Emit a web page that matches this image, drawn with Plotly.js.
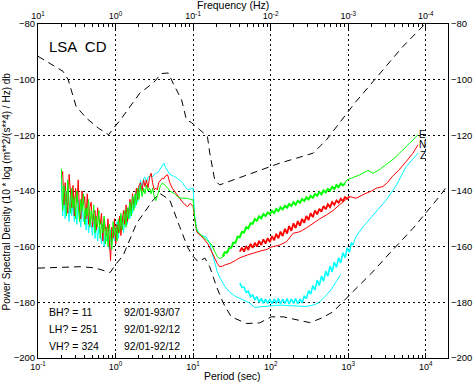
<!DOCTYPE html>
<html>
<head>
<meta charset="utf-8">
<script src="https://cdn.plot.ly/plotly-3.0.1.min.js"></script>
<style>html,body{margin:0;padding:0;background:#fff;}#chart{width:476px;height:389px;}</style>
</head>
<body>
<div id="chart"></div>
<script>
// ---- Tick labels ----
const X_TICKS = [0.1, 1, 10, 100, 1000, 10000];
const X_TICKTEXT = ['10<sup>-1</sup>','10<sup>0</sup>','10<sup>1</sup>','10<sup>2</sup>','10<sup>3</sup>','10<sup>4</sup>'];
const FREQ_TICKTEXT = ['10<sup>1</sup>','10<sup>0</sup>','10<sup>-1</sup>','10<sup>-2</sup>','10<sup>-3</sup>','10<sup>-4</sup>'];
const Y_TICKS = [-200, -180, -160, -140, -120, -100, -80];

// ---- Noise model curves (dashed) ----
const HIGH_PERIOD = [0.1,0.21,0.245,0.31,0.42,0.6,0.81,1.2,2.06,3.06,3.9,4.8,5.5,7.1,8.2,9.5,12.2,15.3,16.4,19,22,49,100,131,216,353,525,744,1216,5100,7590,9800];
const HIGH_DB = [-91.6,-97,-100,-109.6,-113.8,-117.4,-119.8,-113.8,-104.8,-101.2,-97.8,-97.6,-101.2,-107.2,-114.4,-115.4,-118,-120.4,-126.4,-136,-137.8,-134.2,-131.2,-130,-128.2,-126.4,-121.6,-116.2,-108.4,-88,-83.2,-80];
const LOW_PERIOD = [0.1,0.35,0.54,0.77,0.85,1.0,1.26,1.87,3.06,3.7,5.0,6.7,8.6,10,11.6,14.2,16.4,20,24.5,31,49,72,102,145,216,320,450,640,1100,2000,3440,6860,15000,19400];
const LOW_DB = [-167.7,-167.2,-167.6,-169,-169.3,-166.5,-163,-151.6,-143.2,-140.8,-143.2,-152.8,-160.5,-163.5,-165.4,-164.1,-167.2,-174.3,-180.3,-185.2,-187.6,-187.4,-185.2,-185.2,-186.3,-187.3,-185.7,-183.4,-176.7,-169.5,-162.3,-153.4,-142,-137.8];

// ---- Short-period spectra (all three channels) ----
const SP_PERIOD = [
 0.200,0.208,0.216,0.224,0.233,0.242,0.252,0.262,0.272,0.283,
 0.294,0.305,0.317,0.330,0.343,0.356,0.370,0.385,0.400,0.416,
 0.432,0.449,0.466,0.485,0.504,0.523,0.544,0.565,0.587,0.610,
 0.634,0.659,0.685,0.712,0.740,0.769,0.799,0.830,0.862,0.896,
 0.931,0.968,1.006,1.045,1.086,1.128,1.172,1.218,1.266,1.315,
 1.367,1.420,1.476,1.533,1.593,1.655,1.720,1.787,1.857,1.930,
 2.005,
 2.10,2.20,2.30,2.40,2.50,2.62,2.75,2.88,3.00,3.15,
 3.30,3.45,3.60,3.80,4.00,4.20,4.40,4.70,5.00,5.40,
 5.80,6.30,6.80,7.30,7.90,8.50,9.20,10.0,
 10.5,11.1,11.8,12.6,13.5,14.5,15.5,16.5,17.5,19.0,
 20.5,22.0,24.0,26.0];
const SP_E = [
 -132,-147,-138,-141,-149,-136,-144,-148,-139,-146,
 -142,-150,-140,-145,-151,-143,-147,-141,-152,-146,
 -149,-143,-153,-147,-151,-145,-155,-149,-153,-147,
 -157,-151,-155,-149,-159,-153,-160,-152,-157,-161,
 -151,-156,-153,-158,-150,-155,-148,-154,-151,-147,
 -153,-146,-150,-144,-149,-142,-147,-141,-145,-139,
 -143,
 -138,-142,-139,-141,-138,-140,-139,-141,-139,-142,
 -143.5,-142,-140,-138,-137.2,-137.5,-138,-139,-140,-140.5,
 -141,-142,-142.5,-142.6,-142.6,-142.6,-143,-143.2,
 -150,-154,-155,-155.8,-156.5,-157.4,-158,-158.6,-159.5,-161.8,
 -163.5,-164.2,-163.8,-163];
const SP_N = [
 -135,-133,-145,-137,-143,-148,-134,-141,-146,-138,
 -149,-139,-144,-136,-147,-150,-140,-145,-142,-150,
 -141,-152,-146,-144,-153,-148,-147,-154,-146,-150,
 -152,-148,-158,-150,-154,-156,-150,-158,-165,-153,
 -157,-150,-159,-152,-155,-149,-156,-151,-147,-152,
 -145,-151,-148,-143,-147,-141,-145,-143,-139,-143,
 -138,
 -137,-140,-136,-138.4,-136,-139,-135,-133.6,-137,-139.6,
 -139,-139.6,-137,-136,-135.4,-135.6,-134.6,-134.2,-137,-139,
 -140.2,-141.5,-143,-144,-145,-145.6,-144.4,-145.6,
 -150,-154.5,-155.5,-156,-157,-158,-159,-160.5,-162,-164,
 -166,-167.2,-167,-166.5];
const SP_Z = [
 -137,-149,-141,-150,-140,-147,-151,-142,-149,-144,
 -151,-146,-152,-143,-149,-153,-145,-151,-147,-154,
 -148,-155,-150,-152,-156,-149,-157,-151,-158,-153,
 -155,-159,-152,-160,-155,-158,-156,-161,-154,-159,
 -153,-158,-155,-151,-157,-152,-154,-149,-155,-150,
 -147,-152,-146,-150,-144,-148,-142,-146,-140,-144,
 -141,
 -136,-139,-135.5,-135,-137,-135,-134.8,-134.5,-135,-134,
 -133.6,-133.5,-133,-132,-131,-130,-131.5,-133,-134,-134.5,
 -134.8,-135.5,-136.2,-137,-138.5,-139.5,-139.3,-139,
 -149,-153.5,-155,-155.8,-156.2,-156.4,-157.5,-159,-162,-166,
 -169,-171,-173,-174.5];

// ---- Long-period noisy bands (shared period grid) ----
const BAND_PERIOD = [
 24,25.6,27.3,29.1,31,33,35.2,37.5,40,42.6,
 45.4,48.4,51.6,55,58.6,62.5,66.6,71,75.7,80.7,
 86,91.7,97.7,104,111,118,126,134,143,153,
 163,173,185,197,210,224,239,254,271,289,
 308,328,350,373,398,424,452,481,513,547,
 583,621,662,706,752,802,855,911,971,1035,
 1100,1150];
const E_BAND = [
 -163.5,-162.0,-162.2,-160.6,-160.4,-158.5,-158.6,-156.4,-156.6,-154.7,
 -154.9,-153.0,-153.4,-151.6,-151.8,-150.1,-150.7,-149.1,-149.8,-148.3,
 -149.0,-147.7,-148.3,-147.1,-147.9,-146.5,-147.2,-145.8,-146.6,-145.3,
 -146.0,-144.7,-145.4,-144.0,-144.9,-143.5,-144.2,-142.9,-143.6,-142.3,
 -143.0,-141.7,-142.4,-141.1,-141.7,-140.4,-141.2,-139.8,-140.5,-139.3,
 -139.9,-138.5,-139.3,-137.9,-138.6,-137.3,-138.0,-137.2,null,null,
 null,null];
const N_BAND = [
 null,null,null,null,null,null,null,null,-161.8,-160.4,
 -161.8,-159.8,-161.2,-159.0,-160.4,-158.6,-160.0,-157.9,-159.4,-157.4,
 -158.9,-156.9,-158.4,-156.2,-157.7,-155.4,-157.0,-154.6,-156.2,-153.6,
 -155.3,-152.6,-154.3,-151.6,-153.3,-150.8,-152.5,-150.0,-151.4,-149.0,
 -150.4,-148.0,-149.4,-147.0,-148.4,-146.4,-147.4,-145.4,-146.6,-144.8,
 -145.8,-144.0,-145.0,-143.4,-144.2,-142.8,-143.6,-142.2,-142.8,-142.0,
 null,null];
const Z_BAND = [
 null,null,null,null,null,null,null,null,-173.0,-174.6,
 -174.6,-176.4,-176.0,-178.0,-177.4,-179.0,-178.0,-180.0,-178.6,-180.4,
 -178.8,-180.4,-178.8,-180.6,-178.8,-180.4,-178.6,-180.6,-178.8,-180.4,
 -178.6,-180.6,-178.8,-180.4,-178.6,-180.6,-178.8,-180.2,-177.8,-178.6,
 -175.8,-177.0,-174.0,-175.6,-172.0,-174.0,-170.6,-172.4,-168.8,-170.6,
 -167.0,-169.0,-165.6,-167.4,-164.0,-165.8,-162.2,-164.0,-160.4,-162.0,
 -158.6,-159.4];

// ---- Long-period smooth lines ----
const E_TAIL_PERIOD = [911,960,1100,1400,1800,2100,2500,3100,3800,4600,5600,6800,7950];
const E_TAIL_DB = [-137.2,-136,-135.4,-134.2,-132.6,-133.6,-132.4,-130.6,-128.6,-126.4,-124,-121.8,-119.8];
const N_LINE_PERIOD = [26,30,35,40,50,60,75,90,100,131,160,195,240,300,353,430,525,640,770,900,1040,1260,1500,1700,2000,2300,2800,3200,3700,4500,5600,6800,7950];
const N_LINE_DB = [-166.5,-166,-165,-164,-163,-162.2,-161.5,-161,-160.2,-159.4,-158.2,-155.2,-154.6,-153,-151.6,-150,-148.6,-147,-145,-143.5,-142,-142.6,-141.5,-140.8,-140,-139,-138.4,-137,-134.8,-132.5,-129.4,-126.5,-123.4];
const Z_LINE_PERIOD = [26,30,35,40,47,54,62,75,100,131,180,240,290,350,410,500,600,700,800];
const Z_LINE_DB = [-174.5,-176.5,-177.8,-178.5,-179.4,-180.3,-181.8,-181.6,-181.2,-181,-181.2,-181.4,-181.5,-181,-180.3,-178,-175.5,-172.6,-170];
const Z_TAIL_PERIOD = [1150,1260,1560,2100,3100,4200,5600,7950];
const Z_TAIL_DB = [-159.4,-156.4,-152.8,-148.6,-143.2,-137.8,-131.2,-126.4];

// ---- Text ----
const STATION = 'LSA  CD';
const CHANNEL_LABELS = ['BH? = 11', 'LH? = 251', 'VH? = 324'];
const CHANNEL_DATES = ['92/01-93/07', '92/01-92/12', '92/01-92/12'];
const COMPONENTS = ['E', 'N', 'Z'];
const COMPONENT_DB = [-119.6, -123.4, -127.2];

const GREEN = '#00ff00', RED = '#ff0000', CYAN = '#00ffff';
const XRANGE = [-1, 4.287];
const MINOR = [];
[0.1, 1, 10, 100, 1000, 10000].forEach(d => { for (let k = 2; k <= 9; k++) MINOR.push(d * k); });

function line(x, y, color, width, dash) {
  return {x: x, y: y, type: 'scatter', mode: 'lines', hoverinfo: 'skip', connectgaps: false,
          line: {color: color, width: width, dash: dash || 'solid'}};
}

const traces = [
  line(HIGH_PERIOD, HIGH_DB, 'black', 1, '7px,5px'),
  line(LOW_PERIOD, LOW_DB, 'black', 1, '7px,5px'),
  line(SP_PERIOD, SP_Z, CYAN, 1),
  line(Z_LINE_PERIOD, Z_LINE_DB, CYAN, 1),
  line(BAND_PERIOD, Z_BAND, CYAN, 1.6),
  line(Z_TAIL_PERIOD, Z_TAIL_DB, CYAN, 1),
  line(SP_PERIOD, SP_N, RED, 1),
  line(N_LINE_PERIOD, N_LINE_DB, RED, 1),
  line(BAND_PERIOD, N_BAND, RED, 1.8),
  line(SP_PERIOD, SP_E, GREEN, 1),
  line(BAND_PERIOD, E_BAND, GREEN, 2),
  line(E_TAIL_PERIOD, E_TAIL_DB, GREEN, 1),
  {x: [], y: [], type: 'scatter', mode: 'lines', xaxis: 'x2', yaxis: 'y2', hoverinfo: 'skip'}
];

const FONT = 'Liberation Sans, Arial, Helvetica, sans-serif';
const gridStyle = {showgrid: true, gridcolor: 'black', gridwidth: 1, griddash: '2px,3px'};

const annotations = [
  {text: STATION, xref: 'paper', yref: 'paper', x: 0.022, y: 0.934, xanchor: 'left', yanchor: 'middle', showarrow: false, font: {size: 15}},
  {text: 'Frequency (Hz)', xref: 'paper', yref: 'paper', x: 0.475, y: 1.057, xanchor: 'center', yanchor: 'middle', showarrow: false, borderpad: 0, font: {size: 10.5}},
  {text: 'Period (sec)', xref: 'paper', yref: 'paper', x: 0.475, y: -0.055, xanchor: 'center', yanchor: 'middle', showarrow: false, font: {size: 10.5}},
  {text: 'Power Spectral Density (10 * log (m**2/(s**4) / Hz) db', xref: 'paper', yref: 'paper', x: -0.077, y: 0.5, xanchor: 'center', yanchor: 'middle', textangle: -90, showarrow: false, font: {size: 10}}
];
const legendY = [0.1377, 0.0883, 0.0374];
CHANNEL_LABELS.forEach((t, i) => {
  annotations.push({text: t, xref: 'paper', yref: 'paper', x: 0.022, y: legendY[i], xanchor: 'left', yanchor: 'middle', showarrow: false, font: {size: 10.5}});
  annotations.push({text: CHANNEL_DATES[i], xref: 'paper', yref: 'paper', x: 0.204, y: legendY[i], xanchor: 'left', yanchor: 'middle', showarrow: false, font: {size: 10.5}});
});
COMPONENTS.forEach((c, i) => {
  annotations.push({text: c, xref: 'paper', yref: 'y', x: 0.939, y: COMPONENT_DB[i], xanchor: 'center', yanchor: 'middle', showarrow: false, borderpad: 0, font: {size: 10}});
});

const layout = {
  width: 476, height: 389,
  margin: {l: 38, r: 28, t: 24, b: 31, pad: 0},
  paper_bgcolor: 'white', plot_bgcolor: 'white',
  showlegend: false,
  font: {family: FONT, size: 10, color: 'black'},
  xaxis: Object.assign({type: 'log', range: XRANGE, tickmode: 'array', tickvals: X_TICKS, ticktext: X_TICKTEXT,
    ticks: 'inside', ticklen: 5, tickcolor: 'black', showline: true, linecolor: 'black', linewidth: 1, zeroline: false,
    minor: {tickmode: 'array', tickvals: MINOR, ticks: 'inside', ticklen: 3, tickcolor: 'black', showgrid: false},
    tickfont: {size: 9}}, gridStyle),
  xaxis2: {type: 'log', range: XRANGE, overlaying: 'x', side: 'top', anchor: 'y', tickmode: 'array', tickvals: X_TICKS, ticktext: FREQ_TICKTEXT,
    ticks: 'inside', ticklen: 5, tickcolor: 'black', showline: true, linecolor: 'black', linewidth: 1, zeroline: false, showgrid: false,
    minor: {tickmode: 'array', tickvals: MINOR, ticks: 'inside', ticklen: 3, tickcolor: 'black', showgrid: false},
    tickfont: {size: 9}},
  yaxis: Object.assign({range: [-200, -80], tickmode: 'array', tickvals: Y_TICKS, ticks: '', showline: true, linecolor: 'black', linewidth: 1, zeroline: false,
    tickfont: {size: 9.5}}, gridStyle),
  yaxis2: {range: [-200, -80], overlaying: 'y', side: 'right', anchor: 'x', tickmode: 'array', tickvals: Y_TICKS, ticks: '', showline: true, linecolor: 'black', linewidth: 1, zeroline: false, showgrid: false,
    tickfont: {size: 9.5}},
  annotations: annotations
};

Plotly.newPlot('chart', traces, layout, {staticPlot: true, displayModeBar: false});
</script>
</body>
</html>
